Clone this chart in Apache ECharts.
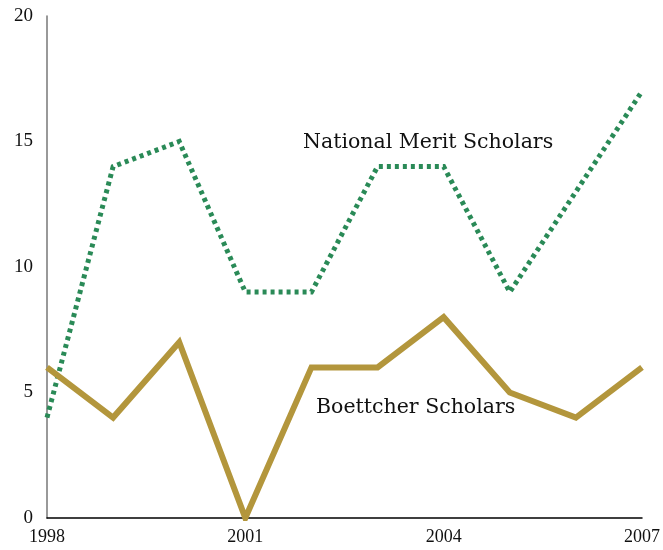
<!DOCTYPE html>
<html><head><meta charset="utf-8">
<script src="https://cdn.jsdelivr.net/npm/echarts@6/dist/echarts.min.js"></script>
<style>html,body{margin:0;padding:0;background:#fff}#c{width:663px;height:550px}</style>
</head><body><div id="c"></div>
<script>
const years = [1998,1999,2000,2001,2002,2003,2004,2005,2006,2007];
const nationalMerit = [4,14,15,9,9,14,14,9,13,17];
const boettcher = [6,4,7,0,6,6,8,5,4,6];
const seriesNames = ['National Merit Scholars','Boettcher Scholars'];
const tickFont = 'Liberation Serif';
const labelFont = 'DejaVu Serif';
const chart = echarts.init(document.getElementById('c'), null, {renderer:'canvas'});
chart.setOption({
  animation:false,
  grid:{left:47,right:17,top:16,bottom:32},
  xAxis:{type:'value',min:1998,max:2007,interval:3,
    axisLine:{lineStyle:{color:'#000',width:1.5}},axisTick:{show:false},splitLine:{show:false},
    axisLabel:{color:'#111',fontFamily:tickFont,fontSize:18,margin:10,formatter:v=>String(v)}},
  yAxis:{type:'value',min:0,max:20,interval:5,
    axisLine:{show:true,lineStyle:{color:'#777',width:1.5}},axisTick:{show:false},splitLine:{show:false},
    axisLabel:{color:'#111',fontFamily:tickFont,fontSize:19,margin:14}},
  series:[
    {name:seriesNames[0],type:'line',data:years.map((y,i)=>[y,nationalMerit[i]]),symbol:'none',
     lineStyle:{color:'#2a8a57',width:5,type:[4,4],join:'miter'},z:2},
    {name:seriesNames[1],type:'line',data:years.map((y,i)=>[y,boettcher[i]]),symbol:'none',
     lineStyle:{color:'#b3963c',width:6,join:'miter',miterLimit:10},z:3}
  ],
  graphic:[
    {type:'text',x:303,y:143,style:{text:seriesNames[0],font:'20.5px "'+labelFont+'"',fill:'#111',verticalAlign:'middle'}},
    {type:'text',x:316,y:408,style:{text:seriesNames[1],font:'20.5px "'+labelFont+'"',fill:'#111',verticalAlign:'middle'}}
  ]
});
</script></body></html>
